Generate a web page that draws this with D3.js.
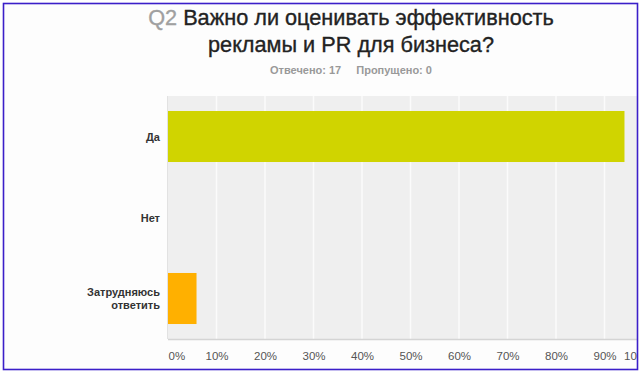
<!DOCTYPE html>
<html><head><meta charset="utf-8">
<script src="https://cdn.jsdelivr.net/npm/d3@7"></script>
<style>html,body{margin:0;padding:0;background:#fff;}svg{display:block;}</style>
</head><body>
<script>
const categories = ["Да", "Нет", "Затрудняюсь ответить"];
const categoryLines = [["Да"], ["Нет"], ["Затрудняюсь", "ответить"]];
const values = [94.12, 0, 5.88];
const barColors = ["#d0d400", "#d0d400", "#ffb000"];
const tickValues = [0,10,20,30,40,50,60,70,80,90,100];
const titleQ = "Q2";
const titleLines = ["Важно ли оценивать эффективность", "рекламы и PR для бизнеса?"];
const answered = "Отвечено: 17";
const skipped = "Пропущено: 0";

const W = 644, H = 375;
const svg = d3.select("body").append("svg").attr("width", W).attr("height", H);
svg.append("rect").attr("width", W).attr("height", H).attr("fill", "#fff");

const defs = svg.append("defs");
defs.append("clipPath").attr("id","frameClip").append("rect")
  .attr("x",4).attr("y",4).attr("width",633).attr("height",365);

const g = svg.append("g").attr("clip-path","url(#frameClip)");
g.append("rect").attr("x",4).attr("y",4).attr("width",633).attr("height",365).attr("fill","#fdfdfd");

const font = "'Liberation Sans', Arial, Helvetica, sans-serif";
const cx = 351;

// Title
const t1 = g.append("text").attr("x", cx).attr("y", 25).attr("text-anchor","middle")
  .attr("font-family", font).attr("font-size", 21.7).attr("fill","#222")
  .attr("stroke","#222").attr("stroke-width",0.35);
t1.append("tspan").attr("fill","#a0a0a0").attr("stroke","#a0a0a0").text(titleQ + " ");
t1.append("tspan").text(titleLines[0]);
g.append("text").attr("x", cx).attr("y", 52).attr("text-anchor","middle")
  .attr("font-family", font).attr("font-size", 21.7).attr("fill","#222")
  .attr("stroke","#222").attr("stroke-width",0.35).text(titleLines[1]);

const st = g.append("text").attr("x", cx).attr("y", 74).attr("text-anchor","middle")
  .attr("font-family", font).attr("font-size", 11).attr("font-weight","bold").attr("fill","#999");
st.append("tspan").text(answered);
st.append("tspan").attr("dx", 15).text(skipped);

// Scales
const x0 = 168, x1 = 653, yTop = 96, yBot = 339;
const x = d3.scaleLinear().domain([0,100]).range([x0, x1]);
const y = d3.scaleBand().domain(categories).range([yTop, yBot]).paddingInner(0.37).paddingOuter(0.185);

// Plot background
g.append("rect").attr("x", x0).attr("y", yTop).attr("width", x1 - x0 + 10).attr("height", yBot - yTop).attr("fill","#efefef");

// Grid
g.selectAll(".grid").data(tickValues.slice(1)).join("line")
  .attr("x1", d => x(d)).attr("x2", d => x(d)).attr("y1", yTop).attr("y2", yBot)
  .attr("stroke","#fbfbfb").attr("stroke-width",1.5);

// Left edge
g.append("line").attr("x1", x0-0.5).attr("x2", x0-0.5).attr("y1", yTop).attr("y2", yBot)
  .attr("stroke","#e2e2e2").attr("stroke-width",1);

// Bars
g.selectAll(".bar").data(categories).join("rect")
  .attr("x", x(0)).attr("y", d => y(d))
  .attr("width", (d,i) => x(values[i]) - x(0)).attr("height", y.bandwidth())
  .attr("fill", (d,i) => barColors[i]);

// Bottom axis line
g.append("line").attr("x1", x0).attr("x2", x1+10).attr("y1", yBot+0.5).attr("y2", yBot+0.5)
  .attr("stroke","#d4d4d4").attr("stroke-width",1.5);

// X tick labels
const xAxis = d3.axisBottom(x).tickValues(tickValues).tickFormat(d => d + "%").tickSize(0).tickPadding(0);
const ax = g.append("g").attr("transform", `translate(0,${yBot + 13})`).call(xAxis);
ax.select(".domain").remove();
ax.selectAll("text").attr("font-family", font).attr("font-size", 11.5).attr("fill","#555")
  .attr("text-anchor", d => d === 0 ? "start" : (d === 100 ? "end" : "middle"));

// Category labels
const yAxis = d3.axisLeft(y).tickSize(0).tickPadding(0).tickFormat("");
const ay = g.append("g").attr("transform", `translate(${x0 - 8},0)`).call(yAxis);
ay.select(".domain").remove();
ay.selectAll(".tick").each(function(d, i) {
  const lines = categoryLines[i];
  const t = d3.select(this).select("text").attr("font-family", font).attr("font-size", 11)
    .attr("font-weight","bold").attr("fill","#333").attr("text-anchor","end").attr("dy", null);
  lines.forEach((l, k) => {
    t.append("tspan").attr("x", 0).attr("y", (k - (lines.length - 1) / 2) * 13.5 + 4).text(l);
  });
});

// Frame
svg.append("rect").attr("x",3.5).attr("y",3.5).attr("width",634).attr("height",366)
  .attr("fill","none").attr("stroke","#3b1fc9").attr("stroke-width",1.6);
</script>
</body></html>
